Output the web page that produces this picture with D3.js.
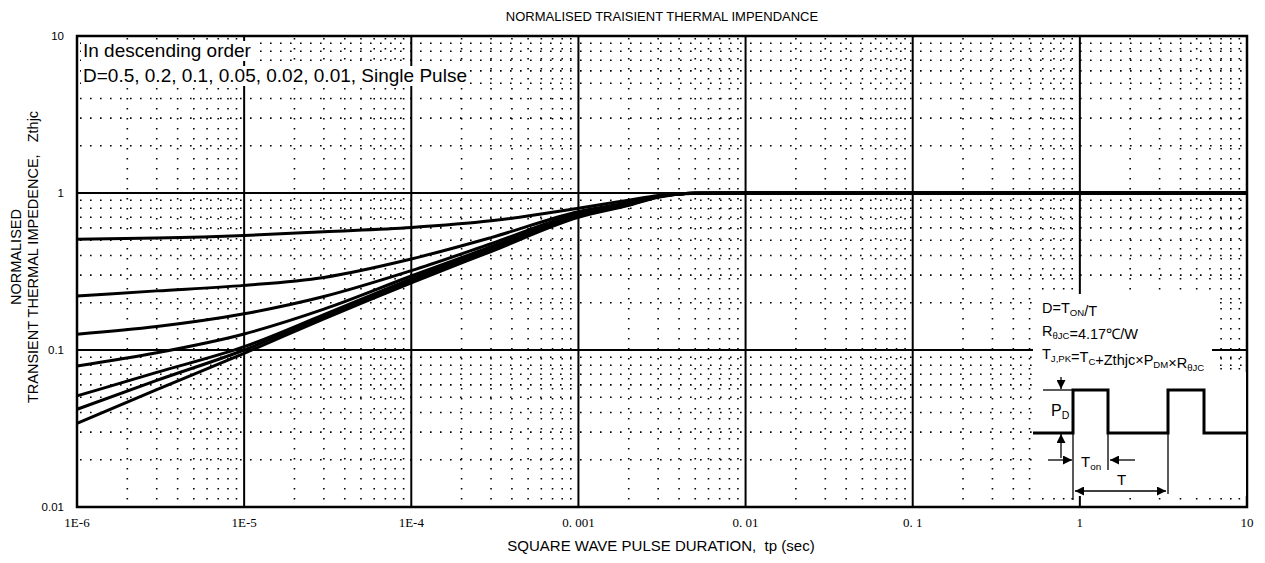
<!DOCTYPE html>
<html>
<head>
<meta charset="utf-8">
<script src="https://cdn.jsdelivr.net/npm/d3@7"></script>
<style>
  body { margin: 0; background: #fff; }
  text { font-family: "Liberation Sans", Arial, sans-serif; fill: #000; }
</style>
</head>
<body>
<div id="chart"></div>
<script>
// pulse durations (sec) where curves were read
var tp = [1e-6, 3e-6, 1e-5, 3e-5, 1e-4, 3e-4, 1e-3, 2e-3, 3e-3, 5e-3, 1e-2, 10];

// normalised Zthjc per duty cycle, descending order
var dutyLabels = ["0.5", "0.2", "0.1", "0.05", "0.02", "0.01", "Single Pulse"];
var zD05 = [0.507, 0.516, 0.536, 0.567, 0.603, 0.665, 0.80, 0.90, 0.965, 0.995, 1, 1];
var zD02 = [0.221, 0.238, 0.258, 0.290, 0.380, 0.520, 0.76, 0.87, 0.955, 0.995, 1, 1];
var zD01 = [0.126, 0.141, 0.170, 0.219, 0.320, 0.475, 0.74, 0.86, 0.95, 0.995, 1, 1];
var zD005 = [0.079, 0.096, 0.1265, 0.182, 0.296, 0.455, 0.73, 0.85, 0.95, 0.995, 1, 1];
var zD002 = [0.051, 0.072, 0.105, 0.168, 0.284, 0.443, 0.72, 0.845, 0.945, 0.995, 1, 1];
var zD001 = [0.0419, 0.064, 0.100, 0.163, 0.276, 0.433, 0.71, 0.84, 0.945, 0.995, 1, 1];
var zSingle = [0.0341, 0.056, 0.0953, 0.158, 0.268, 0.424, 0.70, 0.835, 0.94, 0.995, 1, 1];
var series = [zD05, zD02, zD01, zD005, zD002, zD001, zSingle];

var xTicks = [1e-6, 1e-5, 1e-4, 1e-3, 1e-2, 1e-1, 1, 10];
var xTickLabels = ["1E-6", "1E-5", "1E-4", "0. 001", "0. 01", "0. 1", "1", "10"];
var yTicks = [10, 1, 0.1, 0.01];
var yTickLabels = ["10", "1", "0.1", "0.01"];

var margin = { top: 36, right: 18, bottom: 56, left: 77 };
var W = 1265, H = 563;
var width = W - margin.left - margin.right,
  height = H - margin.top - margin.bottom;

var svg = d3
  .select("#chart")
  .append("svg")
  .attr("width", W)
  .attr("height", H);

var g = svg
  .append("g")
  .attr("transform", "translate(" + margin.left + "," + margin.top + ")");

var x = d3.scaleLog().domain([1e-6, 10]).range([0, width]);
var y = d3.scaleLog().domain([0.01, 10]).range([height, 0]);

// minor grid (dotted)
var minorX = [], minorY = [];
for (var e = -6; e < 1; e++) {
  for (var m = 2; m <= 9; m++) minorX.push(m * Math.pow(10, e));
}
for (var e2 = -2; e2 < 1; e2++) {
  for (var m2 = 2; m2 <= 9; m2++) minorY.push(m2 * Math.pow(10, e2));
}

g.append("g")
  .selectAll("line")
  .data(minorX)
  .enter()
  .append("line")
  .attr("x1", d => x(d))
  .attr("x2", d => x(d))
  .attr("y1", 2)
  .attr("y2", height)
  .attr("stroke", "#000")
  .attr("stroke-width", 1.6)
  .attr("stroke-dasharray", "1.6,8.4");

g.append("g")
  .selectAll("line")
  .data(minorY)
  .enter()
  .append("line")
  .attr("y1", d => y(d))
  .attr("y2", d => y(d))
  .attr("x1", 3)
  .attr("x2", width)
  .attr("stroke", "#000")
  .attr("stroke-width", 1.6)
  .attr("stroke-dasharray", "1.6,8.4");

// major grid
g.append("g")
  .selectAll("line")
  .data(xTicks.slice(1, -1))
  .enter()
  .append("line")
  .attr("x1", d => x(d))
  .attr("x2", d => x(d))
  .attr("y1", 0)
  .attr("y2", height)
  .attr("stroke", "#000")
  .attr("stroke-width", 2);

g.append("g")
  .selectAll("line")
  .data(yTicks.slice(1, -1))
  .enter()
  .append("line")
  .attr("y1", d => y(d))
  .attr("y2", d => y(d))
  .attr("x1", 0)
  .attr("x2", width)
  .attr("stroke", "#000")
  .attr("stroke-width", 2);

// legend text with white backing
var legendLines = ["In descending order", "D=" + dutyLabels.join(", ")];
var legend = g.append("g");
legendLines.forEach(function(t, i) {
  var txt = legend
    .append("text")
    .attr("x", 6)
    .attr("y", 21 + i * 25)
    .attr("font-size", 19)
    .text(t);
  var bb = txt.node().getBBox();
  legend
    .insert("rect", "text")
    .attr("x", bb.x - 2)
    .attr("y", bb.y + 1)
    .attr("width", bb.width + 3)
    .attr("height", bb.height - 1)
    .attr("fill", "#fff");
});

// curves
var line = d3
  .line()
  .x(d => x(d[0]))
  .y(d => y(d[1]))
  .curve(d3.curveMonotoneX);

g.append("g")
  .selectAll("path")
  .data(series)
  .enter()
  .append("path")
  .attr("d", s => line(tp.map((t, i) => [t, s[i]])))
  .attr("fill", "none")
  .attr("stroke", "#000")
  .attr("stroke-width", 3);

// inset: duty cycle definition
var inset = svg.append("g");
inset
  .append("rect")
  .attr("x", 1033).attr("y", 294)
  .attr("width", 179).attr("height", 80)
  .attr("fill", "#fff");
inset
  .append("rect")
  .attr("x", 1033).attr("y", 372)
  .attr("width", 213).attr("height", 124)
  .attr("fill", "#fff");

function subText(parent, xx, yy, parts, size) {
  var t = parent
    .append("text")
    .attr("x", xx)
    .attr("y", yy)
    .attr("font-size", size);
  parts.forEach(function(p) {
    if (p[1]) {
      t.append("tspan").attr("font-size", size * 0.66).attr("dy", 3).text(p[0]);
      t.append("tspan").attr("dy", -3).text("");
    } else {
      t.append("tspan").text(p[0]);
    }
  });
  return t;
}

subText(inset, 1042, 313, [["D=T"], ["ON", 1], ["/T"]], 14.5);
subText(inset, 1042, 336, [["R"], ["θJC", 1], ["=4.17℃/W"]], 14.5);
subText(inset, 1042, 359, [["T"], ["J,PK", 1], ["=T"], ["C", 1], ["+Zthjc×P"], ["DM", 1], ["×R"], ["θJC", 1]], 14.5);

// waveform
var lowY = 433, highY = 390;
var wave = [
  [1033, lowY], [1073, lowY], [1073, highY], [1108, highY], [1108, lowY],
  [1168, lowY], [1168, highY], [1204, highY], [1204, lowY], [1247, lowY]
];
inset
  .append("path")
  .attr("d", d3.line()(wave))
  .attr("fill", "none")
  .attr("stroke", "#000")
  .attr("stroke-width", 3);

svg
  .append("defs")
  .append("marker")
  .attr("id", "arr")
  .attr("viewBox", "0 0 10 10")
  .attr("refX", 10).attr("refY", 5)
  .attr("markerWidth", 9).attr("markerHeight", 9)
  .attr("markerUnits", "userSpaceOnUse")
  .attr("orient", "auto-start-reverse")
  .append("path")
  .attr("d", "M0,0 L10,5 L0,10 Z")
  .attr("fill", "#000");

function thin(x1, y1, x2, y2, arrEnd, arrStart) {
  var l = inset
    .append("line")
    .attr("x1", x1).attr("y1", y1)
    .attr("x2", x2).attr("y2", y2)
    .attr("stroke", "#000")
    .attr("stroke-width", 1.3);
  if (arrEnd) l.attr("marker-end", "url(#arr)");
  if (arrStart) l.attr("marker-start", "url(#arr)");
}

thin(1043, highY, 1073, highY);
thin(1061, 377, 1061, highY - 1, true);
thin(1061, 458, 1061, lowY + 1, true);
thin(1073, highY, 1073, 500);
thin(1108, lowY, 1108, 470);
thin(1168, lowY, 1168, 494);
thin(1048, 460, 1072, 460, true);
thin(1135, 460, 1110, 460, true);
thin(1075, 491, 1166, 491, true, true);

subText(inset, 1051, 416, [["P"], ["D", 1]], 16);
subText(inset, 1081, 467, [["T"], ["on", 1]], 15);
inset.append("text").attr("x", 1117).attr("y", 485).attr("font-size", 15).text("T");

// frame
g.append("rect")
  .attr("width", width)
  .attr("height", height)
  .attr("fill", "none")
  .attr("stroke", "#000")
  .attr("stroke-width", 2.5);

// tick labels
g.append("g")
  .selectAll("text")
  .data(xTicks)
  .enter()
  .append("text")
  .attr("x", d => x(d))
  .attr("y", height + 20)
  .attr("text-anchor", "middle")
  .attr("font-size", 13)
  .style("font-family", "'Liberation Serif', serif")
  .text((d, i) => xTickLabels[i]);

g.append("g")
  .selectAll("text")
  .data(yTicks)
  .enter()
  .append("text")
  .attr("x", -13)
  .attr("y", d => y(d) + 4)
  .attr("text-anchor", "end")
  .attr("font-size", 11.5)
  .text((d, i) => yTickLabels[i]);

// titles
svg.append("text")
  .attr("x", 662).attr("y", 21)
  .attr("text-anchor", "middle")
  .attr("font-size", 13)
  .text("NORMALISED TRAISIENT THERMAL IMPENDANCE");

svg.append("text")
  .attr("x", 661).attr("y", 551)
  .attr("text-anchor", "middle")
  .attr("font-size", 15)
  .style("white-space", "pre")
  .text("SQUARE WAVE PULSE DURATION,  tp (sec)");

svg.append("text")
  .attr("transform", "translate(21,257) rotate(-90)")
  .attr("text-anchor", "middle")
  .attr("font-size", 14.5)
  .text("NORMALISED");

svg.append("text")
  .attr("transform", "translate(38,257) rotate(-90)")
  .attr("text-anchor", "middle")
  .attr("font-size", 14.5)
  .style("white-space", "pre")
  .text("TRANSIENT THERMAL IMPEDENCE,   Zthjc");
</script>
</body>
</html>
